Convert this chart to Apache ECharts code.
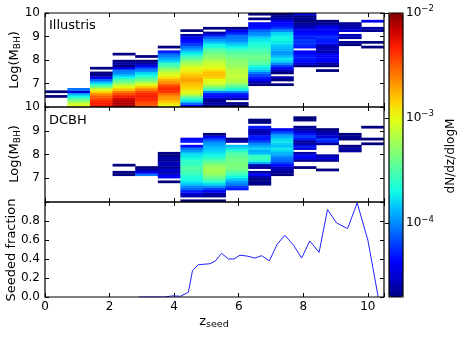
<!DOCTYPE html>
<html><head><meta charset="utf-8">
<script src="https://cdn.jsdelivr.net/npm/echarts@6/dist/echarts.min.js"></script>
<style>html,body{margin:0;padding:0;background:#fff}#c{width:463px;height:337px}</style>
</head><body><div id="c"></div>
<script>
// ---- data ----
const zBinWidth = 0.7;      // redshift bin width
const mBinWidth = 0.1;      // log mass bin width
const mBinOrigin = 6;       // lowest log mass edge
// log10(dN/dz/dlogM) per column (z bins 0-0.7, 0.7-1.4, ...), listed from the start mass bin upward
const illustrisStart = [4, 0, 0, 0, 0, 0, 0, 0, 0, 9, 9, 17, 15, 26, 25];
const illustrisCols = [
  [-4.7, null, -4.7],
  [-3.0, -3.1, -3.3, -3.5, -3.7, -3.9, -4.45, -4.05],
  [-2.3, -2.3, -2.35, -2.45, -2.5, -2.65, -2.85, -3.05, -3.35, -3.6, -3.85, -4.1, -4.4, -4.65, -4.7, null, -4.7],
  [-2.1, -2.1, -2.15, -2.2, -2.3, -2.45, -2.6, -2.8, -3.0, -3.15, -3.35, -3.5, -3.7, -3.85, -4.0, -4.05, -4.4, -4.7, -4.6, -4.7, null, null, -4.7],
  [-2.5, -2.45, -2.4, -2.35, -2.3, -2.35, -2.45, -2.6, -2.8, -3.0, -3.2, -3.4, -3.55, -3.7, -3.8, -4.0, -4.15, -4.4, -4.6, -4.7, null, -4.7],
  [-3.0, -2.9, -2.8, -2.7, -2.65, -2.55, -2.4, -2.35, -2.4, -2.5, -2.65, -2.75, -2.9, -3.0, -3.1, -3.2, -3.35, -3.5, -3.6, -3.8, -3.9, -4.0, -4.1, -4.3, null, -4.7],
  [-4.4, -4.1, -3.75, -3.6, -3.4, -3.1, -3.0, -2.9, -2.85, -2.8, -2.75, -2.7, -2.75, -2.8, -2.9, -2.95, -3.0, -3.1, -3.2, -3.3, -3.45, -3.55, -3.7, -3.8, -3.95, -4.05, -4.2, -4.3, -4.35, -4.4, -4.6, null, -4.7],
  [-4.7, -4.6, -4.65, -4.6, -4.35, -4.3, -4.0, -3.55, -3.35, -3.15, -3.05, -3.0, -2.85, -2.8, -2.8, -2.85, -3.0, -3.05, -3.1, -3.15, -3.25, -3.3, -3.35, -3.45, -3.5, -3.65, -3.7, -3.85, -3.95, -4.1, -4.3, -4.6, null, -4.7],
  [-4.7, -4.7, null, -4.6, -4.4, -4.3, -4.0, -3.7, -3.5, -3.4, -3.2, -3.15, -3.15, -3.1, -3.15, -3.15, -3.2, -3.25, -3.3, -3.3, -3.35, -3.4, -3.45, -3.5, -3.6, -3.7, -3.8, -3.9, -4.0, -4.05, -4.1, -4.3, -4.4, -4.7],
  [-4.7, -4.6, -4.4, -4.3, -4.2, -4.05, -3.85, -3.75, -3.65, -3.5, -3.45, -3.4, -3.4, -3.45, -3.5, -3.55, -3.6, -3.65, -3.7, -3.75, -3.8, -3.95, -4.0, -4.1, -4.3, -4.35, -4.4, null, -4.7, null, -4.7],
  [-4.7, null, -4.7, -4.6, null, -4.7, -4.6, -4.4, -4.2, -4.0, -3.8, -3.75, -3.85, -3.95, -3.95, -3.9, -3.85, -3.8, -3.75, -3.7, -3.7, -3.75, -3.8, -4.0, -4.2, -4.3, -4.35, -4.4, -4.6, -4.65, -4.7],
  [-4.7, -4.5, -4.35, -4.3, -4.3, -4.35, -4.4, null, -4.3, -4.25, -4.25, -4.2, -4.3, -4.3, -4.35, -4.4, -4.5, -4.6, -4.65, -4.7, -4.65, -4.7, -4.5],
  [-4.7, null, -4.7, -4.6, -4.4, -4.35, -4.4, -4.35, -4.6, -4.55, -4.6, -4.5, -4.3, -4.3, -4.25, -4.3, -4.35, -4.4, -4.4, -4.5, -4.65, -4.7],
  [-4.7, -4.65, null, -4.6, -4.55, null, -4.5, -4.55, -4.6, -4.65],
  [-4.7, null, -4.7, null, null, null, null, -4.65, -4.6, null, null, -4.4]
];
const dcbhStart = [0, 0, 0, 11, 11, 8, 0, 0, 5, 7, 11, 14, 13, 21, 24];
const dcbhCols = [
  [], [], [],
  [-4.7, -4.7, null, null, -4.7],
  [-4.05, -4.4, -4.6, -4.7],
  [-4.7, null, -4.35, -4.45, -4.6, -4.5, -4.65, -4.6, -4.55, -4.65, -4.6, -4.7, -4.7],
  [-4.7, null, -4.6, -4.5, -4.3, -4.1, -4.0, -3.85, -3.75, -3.7, -3.65, -3.6, -3.55, -3.5, -3.5, -3.55, -3.6, -3.6, -3.7, -3.75, -3.8, -3.95, -4.05, -4.35, null, -4.3, -4.4],
  [-4.7, null, -4.65, -4.6, -4.4, -4.2, -4.0, -3.8, -3.65, -3.5, -3.4, -3.3, -3.25, -3.2, -3.25, -3.3, -3.4, -3.5, -3.6, -3.7, -3.75, -3.8, -3.85, -3.9, -3.95, -4.05, -4.2, -4.4, -4.7],
  [-4.3, -4.2, -4.05, -3.95, -3.85, -3.7, -3.6, -3.5, -3.4, -3.35, -3.35, -3.35, -3.4, -3.4, -3.45, -3.5, -3.6, -3.75, -3.85, null, -4.6, -4.7],
  [-4.7, -4.65, -4.7, -4.6, -4.35, -4.6, null, -4.65, -4.6, -3.9, -3.65, -3.55, -3.6, -3.85, -3.9, -3.8, -3.9, -4.0, -4.2, -4.3, -4.3, -4.5, -4.6, -4.55, -4.3, null, -4.7, -4.7],
  [-4.7, -4.65, -4.6, -4.55, -4.35, -4.2, -4.1, -4.05, -3.95, -3.9, -3.8, -3.75, -3.85, -3.8, -3.75, -3.8, -3.9, -4.0, -4.2, -4.4],
  [-4.7, null, null, -4.65, -4.4, -4.35, -4.6, null, -4.5, -4.3, -4.6, -4.65, -4.3, -4.2, -4.3, -4.5, -4.6, -4.65, null, null, -4.7, -4.7],
  [-4.7, null, null, null, -4.65, -4.5, -4.6, null, null, null, null, -4.65, -4.3, -4.2, -4.5, -4.55, -4.6, -4.7],
  [-4.65, -4.6, -4.7, null, null, -4.7, -4.65, -4.7],
  [-4.7, null, -4.7, null, null, null, null, -4.7]
];
// seeded fraction vs z_seed
const fracZ   = [2.9, 3.7, 3.95, 4.2, 4.44, 4.57, 4.75, 5.11, 5.28, 5.47, 5.68, 5.85, 6.04, 6.27, 6.5, 6.71, 6.95, 7.19, 7.43, 7.71, 7.95, 8.2, 8.49, 8.75, 9.03, 9.37, 9.67, 10.0, 10.32];
const fracVal = [0, 0, 0.012, 0.008, 0.05, 0.28, 0.34, 0.35, 0.38, 0.46, 0.40, 0.40, 0.44, 0.43, 0.41, 0.435, 0.38, 0.555, 0.65, 0.54, 0.41, 0.59, 0.47, 0.92, 0.78, 0.72, 0.99, 0.60, 0.0];
const xTicks = [0, 2, 4, 6, 8, 10];
const massTicks = [7, 8, 9, 10];
const fracTicks = [0, 0.2, 0.4, 0.6, 0.8];
const cbarTicks = [-4, -3, -2];
const cbarMin = -4.7, cbarMax = -2;

// ---- build ----
function cells(starts, cols) {
  const out = [];
  cols.forEach((col, j) => {
    col.forEach((v, i) => {
      if (v === null) return;
      const k = starts[j] + i;
      out.push([(j + 0.5) * zBinWidth, mBinOrigin + (k + 0.5) * mBinWidth, v]);
    });
  });
  return out;
}
const jet = ['#000080','#0000c8','#0000ff','#0040ff','#0080ff','#00bfff','#15ffe2','#48ffaf','#7bff7b','#afff48','#e2ff15','#ffd200','#ff9700','#ff5c00','#ff2100','#c80000','#800000'];
const FONT = 'DejaVu Sans';
function renderCell(params, api) {
  const z = api.value(0), m = api.value(1);
  const p0 = api.coord([z - zBinWidth / 2, m + mBinWidth / 2]);
  const p1 = api.coord([z + zBinWidth / 2, m - mBinWidth / 2]);
  return { type: 'rect',
    shape: { x: p0[0] - 0.2, y: p0[1] - 0.2, width: p1[0] - p0[0] + 0.4, height: p1[1] - p0[1] + 0.4 },
    style: { fill: api.visual('color') } };
}
const grids = [
  { left: 45, top: 13, width: 339, height: 94 },
  { left: 45, top: 107, width: 339, height: 95 },
  { left: 45, top: 202, width: 339, height: 95 },
  { left: 389, top: 13, width: 14, height: 284 }
].map((g, i) => Object.assign(g, { show: true, borderColor: '#000', borderWidth: 1.2, z: i === 3 ? 10 : 3, containLabel: false }));

const tick = { show: true, inside: true, length: 4, lineStyle: { color: '#000', width: 1 } };
function xAx(g, pos, labels) {
  return { type: 'value', gridIndex: g, position: pos, min: 0, max: 10.5, interval: 2,
    axisLine: { show: false, onZero: false }, axisTick: tick, splitLine: { show: false },
    axisLabel: { show: labels, fontSize: 12, color: '#000', fontFamily: FONT, margin: 4,
      formatter: v => xTicks.includes(v) ? String(v) : '' } };
}
function yAx(g, pos, labels, min, max, interval, fmt) {
  return { type: 'value', gridIndex: g, position: pos, min, max, interval,
    axisLine: { show: false, onZero: false }, axisTick: tick, splitLine: { show: false },
    axisLabel: { show: labels, fontSize: 12, color: '#000', fontFamily: FONT, margin: 5, formatter: fmt } };
}
const massFmt = v => massTicks.includes(v) ? String(v) : '';
const fracFmt = v => fracTicks.some(t => Math.abs(t - v) < 1e-6) ? v.toFixed(1) : '';

const subLabel = (main, sub, size, subSize) => ({
  text: '{a|' + main + '}{s|' + sub + '}',
  rich: { a: { fontSize: size, fontFamily: FONT, fill: '#000' },
          s: { fontSize: subSize, fontFamily: FONT, fill: '#000', padding: [6, 0, 0, 0] } }
});

const option = {
  animation: false,
  backgroundColor: '#fff',
  grid: grids,
  xAxis: [
    xAx(0, 'bottom', false), xAx(0, 'top', false),
    xAx(1, 'bottom', false), xAx(1, 'top', false),
    xAx(2, 'bottom', true), xAx(2, 'top', false),
    { type: 'value', gridIndex: 3, show: false, min: 0, max: 1 }
  ],
  yAxis: [
    yAx(0, 'left', true, 6, 10, 1, massFmt), yAx(0, 'right', false, 6, 10, 1),
    yAx(1, 'left', true, 6, 10, 1, massFmt), yAx(1, 'right', false, 6, 10, 1),
    yAx(2, 'left', true, 0, 1, 0.2, fracFmt), yAx(2, 'right', false, 0, 1, 0.2),
    { type: 'value', gridIndex: 3, position: 'right', min: cbarMin, max: cbarMax,
      axisLine: { show: false }, splitLine: { show: false },
      axisTick: { show: true, inside: true, length: 4, customValues: cbarTicks, lineStyle: { color: '#000' } },
      axisLabel: { show: true, margin: 3, customValues: cbarTicks, color: '#000',
        formatter: v => '{b|10}{s|−' + Math.round(-v) + '}',
        rich: { b: { fontSize: 12, fontFamily: FONT, color: '#000' },
                s: { fontSize: 8.5, fontFamily: FONT, color: '#000', padding: [0, 0, 8, 0] } } } }
  ],
  visualMap: {
    type: 'continuous', min: cbarMin, max: cbarMax, dimension: 2, seriesIndex: [0, 1],
    inRange: { color: jet }, calculable: false, show: true, orient: 'vertical',
    left: 389, top: 13, itemWidth: 14, itemHeight: 284, padding: 0, text: null, showLabel: false
  },
  series: [
    { type: 'custom', xAxisIndex: 0, yAxisIndex: 0, renderItem: renderCell, clip: true,
      encode: { x: 0, y: 1 }, data: cells(illustrisStart, illustrisCols) },
    { type: 'custom', xAxisIndex: 2, yAxisIndex: 2, renderItem: renderCell, clip: true,
      encode: { x: 0, y: 1 }, data: cells(dcbhStart, dcbhCols) },
    { type: 'line', xAxisIndex: 4, yAxisIndex: 4, showSymbol: false, clip: true, z: 1,
      lineStyle: { color: '#2020ff', width: 1 }, data: fracZ.map((z, i) => [z, fracVal[i]]) }
  ],
  graphic: [
    { type: 'text', x: 49, y: 26, style: { text: 'Illustris', font: '13px "DejaVu Sans"', fill: '#000', verticalAlign: 'middle' } },
    { type: 'text', x: 49, y: 121, style: { text: 'DCBH', font: '13px "DejaVu Sans"', fill: '#000', verticalAlign: 'middle' } },
    { type: 'text', x: 15, y: 60, rotation: Math.PI / 2,
      style: Object.assign({ align: 'center', verticalAlign: 'middle' }, subLabel('Log(M', 'BH', 13, 9)) },
    { type: 'text', x: 15, y: 154, rotation: Math.PI / 2,
      style: Object.assign({ align: 'center', verticalAlign: 'middle' }, subLabel('Log(M', 'BH', 13, 9)) },
    { type: 'text', x: 12, y: 250, rotation: Math.PI / 2, style: { text: 'Seeded fraction', font: '13px "DejaVu Sans"', fill: '#000', align: 'center', verticalAlign: 'middle' } },
    { type: 'text', x: 214, y: 322, style: Object.assign({ align: 'center', verticalAlign: 'middle' }, subLabel('z', 'seed', 13, 9.5)) },
    { type: 'text', x: 451, y: 156, rotation: Math.PI / 2, style: { text: 'dN/dz/dlogM', font: '12px "DejaVu Sans"', fill: '#000', align: 'center', verticalAlign: 'middle' } }
  ]
};
// append closing parenthesis to the Log(M_BH) labels
option.graphic[2].style.text += '{a|)}';
option.graphic[3].style.text += '{a|)}';
const chart = echarts.init(document.getElementById('c'), null, { renderer: 'canvas' });
chart.setOption(option);
</script></body></html>
